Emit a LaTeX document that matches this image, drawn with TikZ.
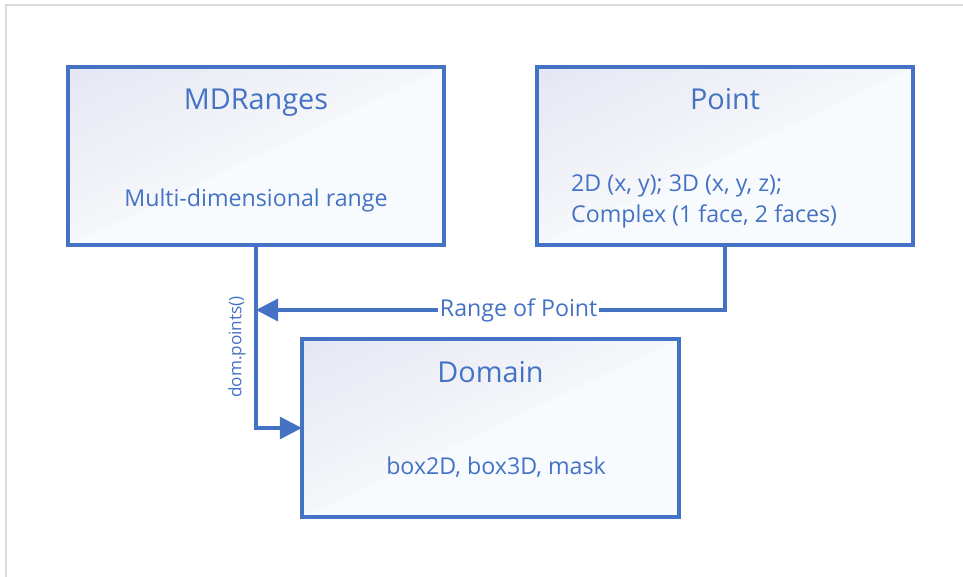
\documentclass[tikz,border=0pt]{standalone}
\usepackage{fontspec}
\setmainfont{Open Sans}
\usetikzlibrary{arrows.meta}
\definecolor{officeblue}{RGB}{68,114,196}
\definecolor{boxtint}{RGB}{228,231,243}
\definecolor{boxmid}{RGB}{246,247,250}
\definecolor{boxend}{RGB}{248,251,254}
\definecolor{framegray}{RGB}{218,218,218}
\tikzset{
  boxedge/.style={draw=officeblue, line width=3.2pt},
  titletext/.style={text=officeblue, font=\fontsize{28.8}{32}\selectfont, anchor=base, inner sep=0pt},
  bodytext/.style={text=officeblue, font=\fontsize{23.2}{31.3}\selectfont, inner sep=0pt},
  link/.style={draw=officeblue, line width=3.2pt, -{Triangle[length=22pt,width=22pt]}},
  linklabel/.style={text=officeblue, fill=white, inner sep=1pt}
}
% Diagonal tint: lavender in the upper-left corner fading to the
% anti-diagonal, pale blue-white beyond it. Arguments: x, y, width, height.
\newcommand{\tintbox}[4]{%
  \begin{scope}
    \clip (#1,#2) rectangle ++(#3,#4);
    \fill[boxend] (#1,#2) rectangle ++(#3,#4);
    \foreach \k in {0,...,39}{
      \pgfmathsetmacro{\sa}{\k/40}
      \pgfmathsetmacro{\sb}{(\k+1.2)/40}
      \pgfmathsetmacro{\pc}{100*(1-(\k+0.5)/40)}
      \fill[boxtint!\pc!boxmid]
        ({#1+\sa*#3+#3},{#2-#4}) -- ({#1+\sa*#3-#3},{#2+#4}) --
        ({#1+\sb*#3-#3},{#2+#4}) -- ({#1+\sb*#3+#3},{#2-#4}) -- cycle;
    }
  \end{scope}
  \draw[boxedge] (#1,#2) rectangle ++(#3,#4);}
\begin{document}
\begin{tikzpicture}[x=1pt,y=-1pt]
  \useasboundingbox (0,0) rectangle (963,577);
  % page frame
  \draw[framegray, line width=1.5pt] (6,578) -- (6,5) -- (964,5);

  % class boxes
  \tintbox{68}{67}{376}{178}
  \tintbox{537}{67}{376}{178}
  \tintbox{302}{339}{377}{178}
  \node[minimum width=376pt, minimum height=178pt, inner sep=0pt] (md) at (256,156) {};
  \node[minimum width=376pt, minimum height=178pt, inner sep=0pt] (pt) at (725,156) {};
  \node[minimum width=377pt, minimum height=178pt, inner sep=0pt] (dom) at (490.5,428) {};

  % texts
  \node[titletext] (mdtitle) at (256,110) {MDRanges};
  \node[bodytext, anchor=base] (mdbody) at (256,207) {Multi-dimensional range};
  \node[titletext] (pttitle) at (725,110) {Point};
  \node[bodytext, anchor=base west, align=left] (ptbody) at (571,223)
    {2D (x, y); 3D (x, y, z);\\Complex (1 face, 2 faces)};
  \node[titletext] (domtitle) at (490.5,382.5) {Domain};
  \node[bodytext, anchor=base] (dombody) at (496,474) {box2D, box3D, mask};

  % connectors
  \coordinate (join) at (256,310);
  \draw[link] (md.south) |- (dom.west);
  \draw[link] (pt.south) |- (join)
    node[linklabel, bodytext, fill=white, pos=0.72, anchor=center, inner sep=2pt] (rlabel) {Range of Point};
  \node[text=officeblue, font=\fontsize{17.2}{20}\selectfont, rotate=90, inner sep=0pt] (dlabel) at (237,347) {dom.points()};
\end{tikzpicture}
\end{document}
